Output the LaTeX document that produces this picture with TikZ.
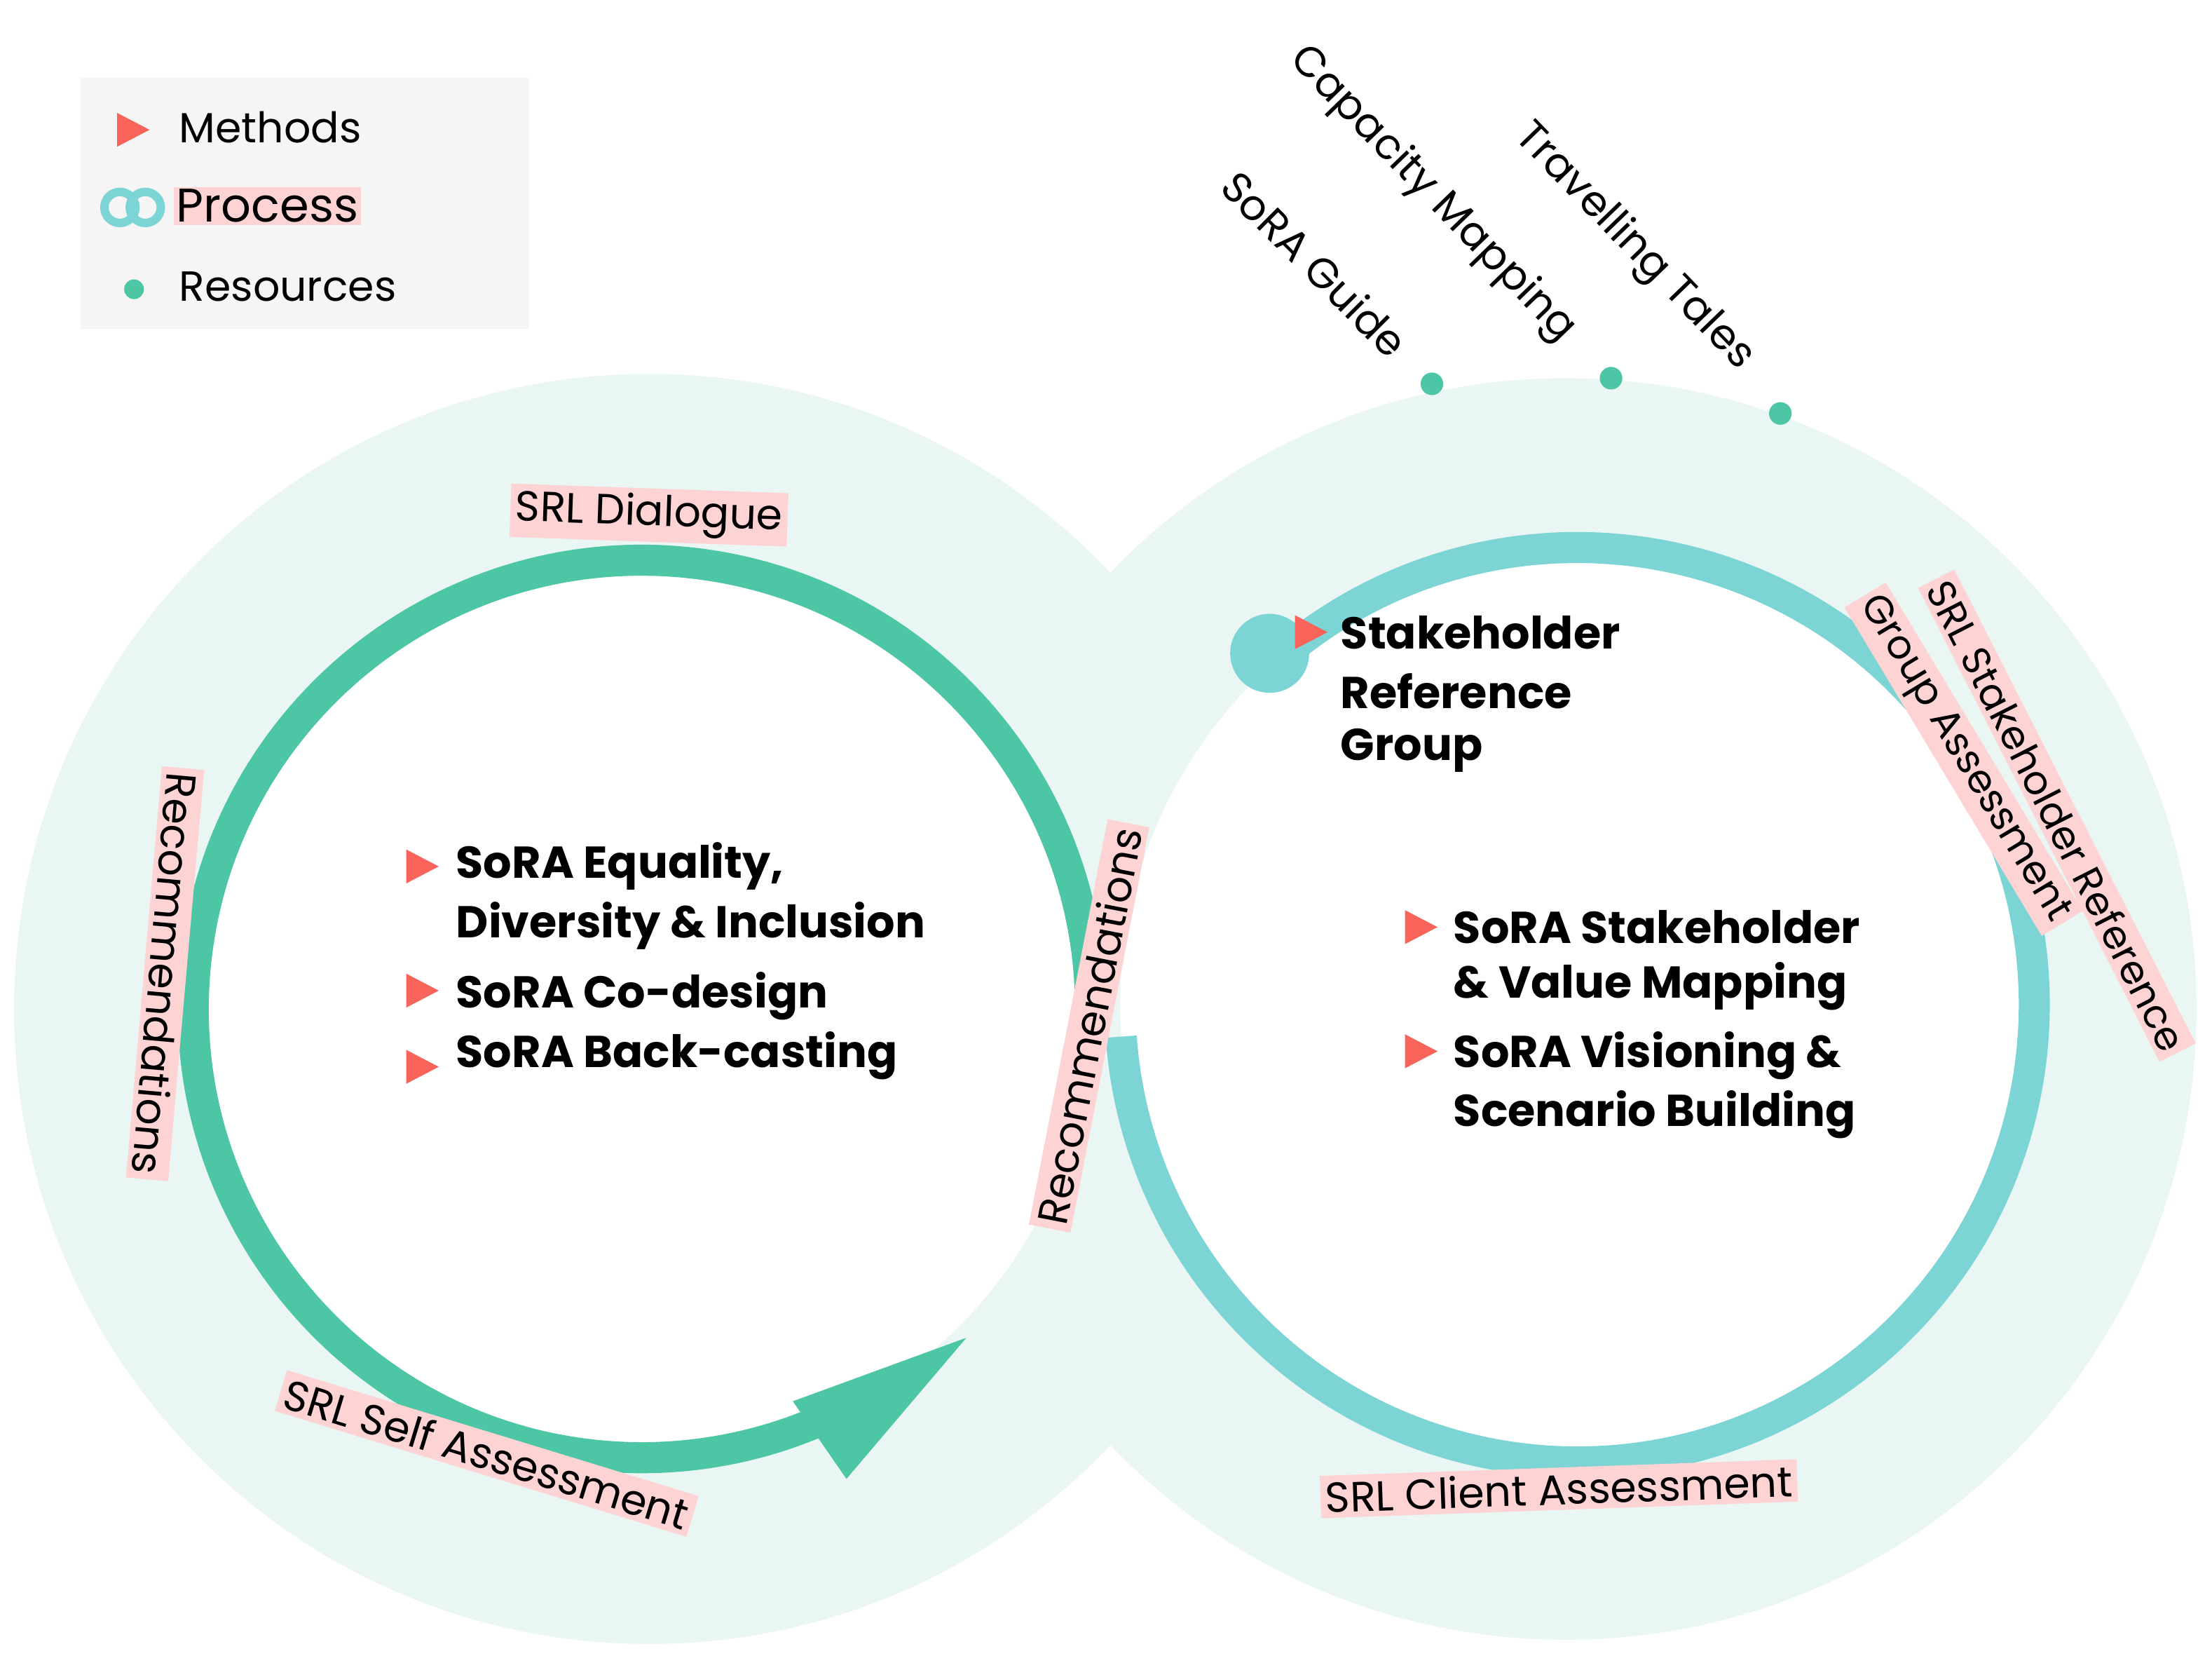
\documentclass[tikz,border=0pt]{standalone}
\usepackage{fontspec}
\setmainfont{Poppins}
\definecolor{bgc}{HTML}{E9F6F4}
\definecolor{grn}{HTML}{4CC6A4}
\definecolor{tea}{HTML}{7DD4D4}
\definecolor{pnk}{HTML}{FDD3D3}
\definecolor{trc}{HTML}{F8635A}
\definecolor{lgd}{HTML}{F5F5F5}
\tikzset{
  lab/.style={fill=pnk,inner sep=2pt,font=\fontsize{17}{20}\selectfont},
  res/.style={inner sep=1pt,font=\fontsize{17}{20}\selectfont},
  meth/.style={anchor=west,inner sep=0pt,font=\fontsize{18}{24}\selectfont\bfseries},
  tri/.style={fill=trc},
}
\newcommand\methtri[1]{\fill[tri] (#1) ++(-10,12) -- ++(23,-12) -- ++(-23,-12) -- cycle;}
\begin{document}
\begin{tikzpicture}[x=0.02cm,y=0.02cm]
\useasboundingbox (0,0) rectangle (1568,1178);
\fill[white] (0,0) rectangle (1568,1178);
% background circles
\fill[bgc] (460,463) circle (450);
\fill[bgc] (1110,463) circle (447);
\fill[white] (455,463) circle (318);
\fill[white] (1118,466) circle (324);
% green ring
\draw[grn,line width=0.44cm] (455,463) ++(-5:318) arc (-5:294:318);
\fill[grn] (562,185) -- (685,230) -- (600,130) -- cycle;
% teal ring
\draw[tea,line width=0.44cm] (1118,466) ++(131:324) arc (131:-176:324);
\fill[tea] (900,715) circle (28);
% ring labels
\node[lab,rotate=-2] (dia) at (460,813) {SRL Dialogue};
\node[lab,rotate=-95] (recl) at (117,488) {Recommendations};
\node[lab,rotate=79] (recm) at (772,451) {Recommendations};
\node[lab,rotate=-17] (self) at (345,148) {SRL Self Assessment};
\node[lab,rotate=2] (cli) at (1105,123) {SRL Client Assessment};
\node[lab,rotate=-63,font=\fontsize{16}{19}\selectfont] (srl) at (1458,600) {SRL Stakeholder Reference};
\node[lab,rotate=-59,font=\fontsize{16}{19}\selectfont] (grp) at (1392,640) {Group Assessment};
% resources
\node[res,rotate=-45] (guide) at (932,991) {SoRA Guide};
\node[res,rotate=-46] (cap) at (1015,1040) {Capacity Mapping};
\node[res,rotate=-46] (tt) at (1158,1003) {Travelling Tales};
\fill[grn] (1015,906) circle (8);
\fill[grn] (1142,910) circle (8);
\fill[grn] (1262,885) circle (8);
% methods left
\node[meth] (m1) at (323,564) {SoRA Equality,};
\node[meth] (m1b) at (323,522) {Diversity \& Inclusion};
\node[meth] (m2) at (323,472) {SoRA Co-design};
\node[meth] (m3) at (323,430) {SoRA Back-casting};
\methtri{298,564}
\methtri{298,476}
\methtri{298,422}
% methods right
\node[meth] (r1) at (1030,521) {SoRA Stakeholder};
\node[meth] (r1b) at (1030,479) {\& Value Mapping};
\node[meth] (r2) at (1030,430) {SoRA Visioning \&};
\node[meth] (r2b) at (1030,388) {Scenario Building};
\methtri{1006,521}
\methtri{1006,433}
\node[meth] (s1) at (950,730) {Stakeholder};
\node[meth] (s2) at (950,688) {Reference};
\node[meth] (s3) at (950,646) {Group};
\methtri{928,730}
% legend
\fill[lgd] (57,945) rectangle (375,1123);
\methtri{93,1086}
\node[res,anchor=west] (lm) at (125,1088) {Methods};
\draw[tea,line width=0.12cm] (85,1031) circle (11) (103,1031) circle (11);
\node[lab,anchor=west,inner sep=1pt,font=\fontsize{19}{22}\selectfont] (lp) at (123,1032) {Process};
\fill[grn] (95,973) circle (7);
\node[res,anchor=west] (lr) at (125,975) {Resources};
\end{tikzpicture}
\end{document}
